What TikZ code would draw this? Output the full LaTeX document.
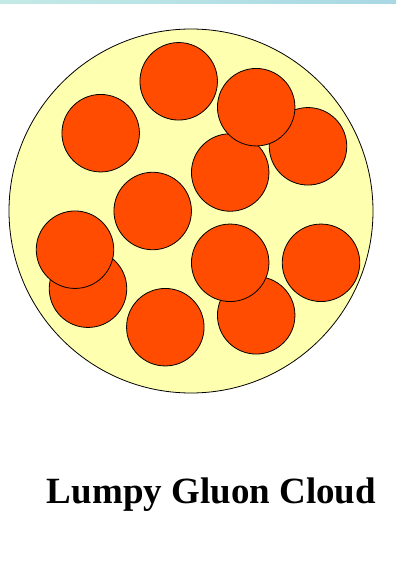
\documentclass[tikz,border=0pt]{standalone}
\usepackage{fontspec}
\setmainfont{Liberation Serif}
\begin{document}
\begin{tikzpicture}[x=1pt,y=-1pt,
  lump/.style={circle,draw=black,line width=0.8pt,fill=lumpcol,minimum size=77.5pt,inner sep=0pt},
  cloud/.style={circle,draw=black,line width=0.8pt,fill=cloudcol,minimum size=364pt,inner sep=0pt}]
\definecolor{lumpcol}{RGB}{255,76,0}
\definecolor{cloudcol}{RGB}{255,255,176}
\definecolor{stripL}{RGB}{196,234,230}
\definecolor{stripR}{RGB}{168,216,228}
\useasboundingbox (0,0) rectangle (396,564);
\shade[left color=stripL,right color=stripR] (0,0) rectangle (396,3.5);
\node[cloud] (cl) at (191,211) {};
\node[lump] (l4) at (308,146.3) {};
\node[lump] (l5) at (230.2,172.5) {};
\node[lump] (l1) at (178.7,81.3) {};
\node[lump] (l2) at (100.7,133.2) {};
\node[lump] (l3) at (256.2,107.2) {};
\node[lump] (l6) at (152.7,211) {};
\node[lump] (l8) at (88,288.7) {};
\node[lump] (l7) at (75,249.7) {};
\node[lump] (l10) at (256.2,315.3) {};
\node[lump] (l9) at (230.2,262.8) {};
\node[lump] (l11) at (321,262.8) {};
\node[lump] (l12) at (165.3,327.2) {};
\node[font=\fontsize{37}{40}\selectfont\bfseries,anchor=base,inner sep=0pt] (t) at (211.5,503) {Lumpy Gluon Cloud};
\end{tikzpicture}
\end{document}
